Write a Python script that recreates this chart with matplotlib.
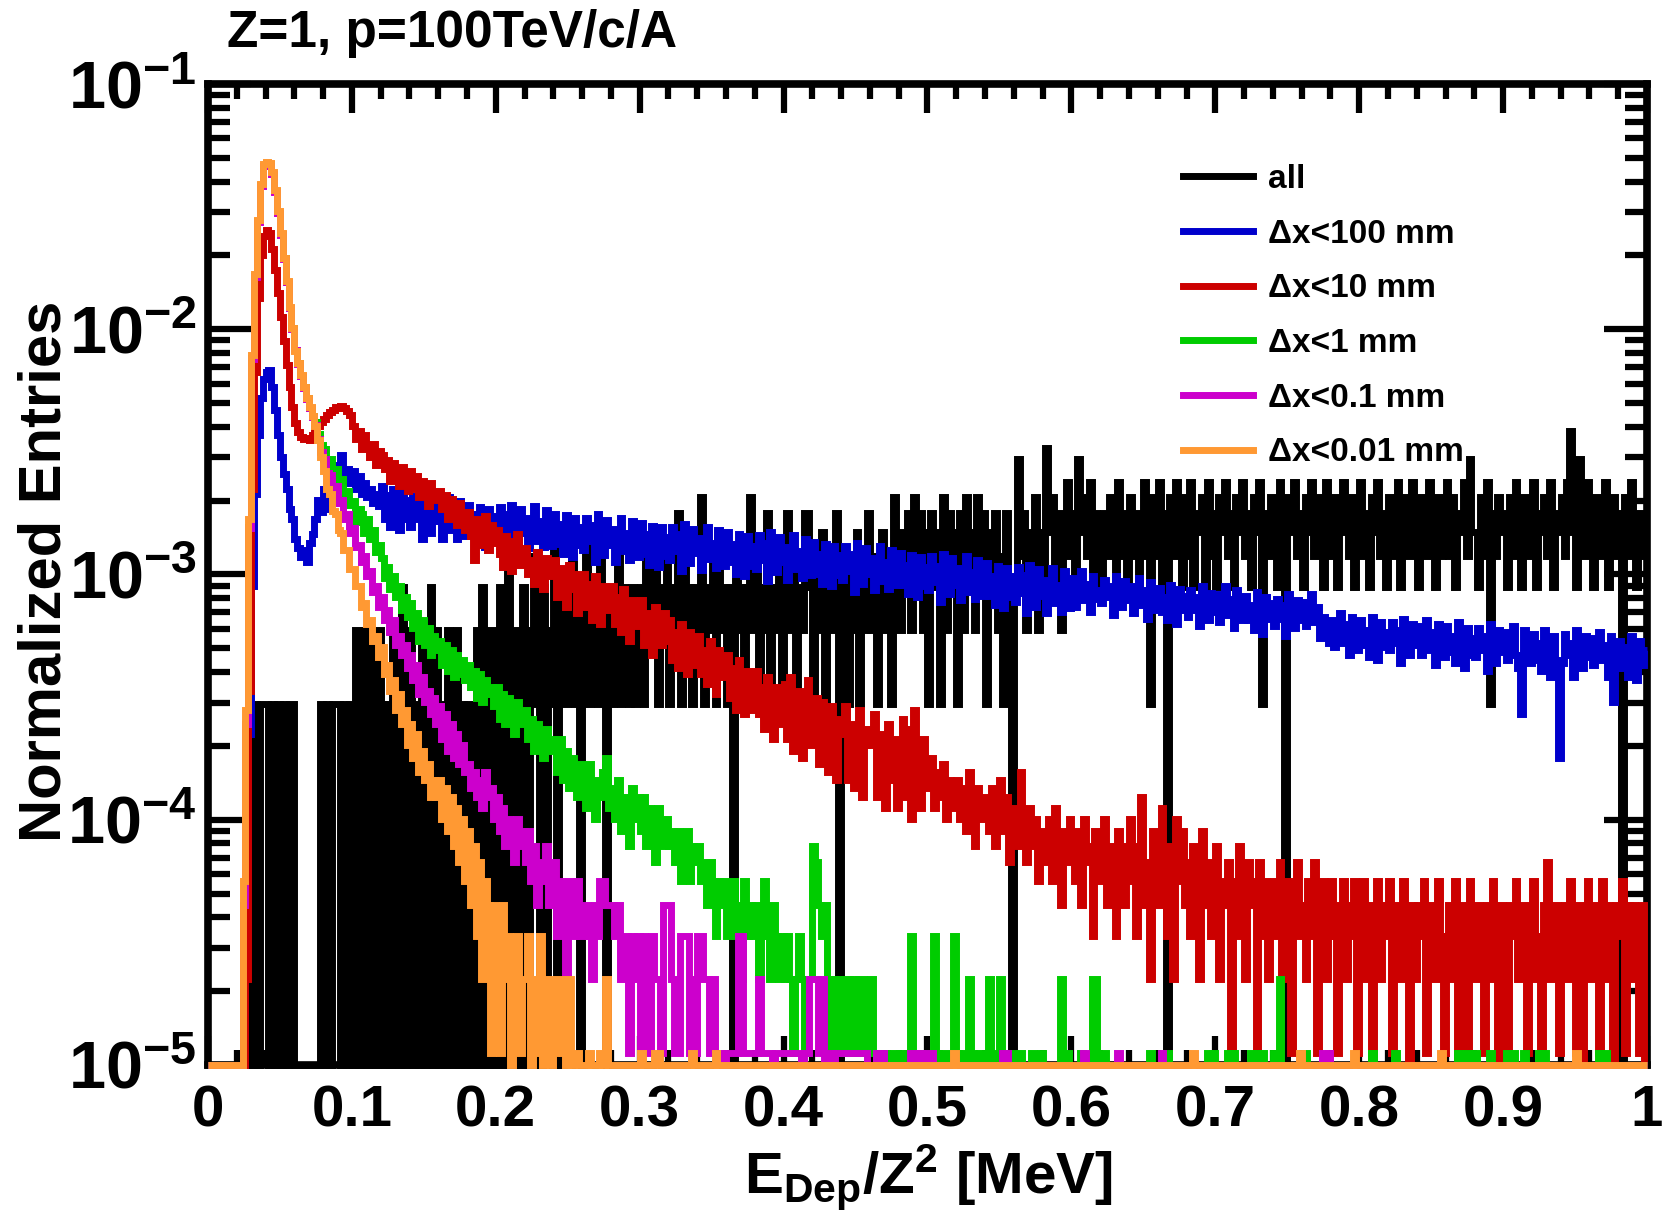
import numpy as np
import matplotlib
matplotlib.use("Agg")
import matplotlib.pyplot as plt
from matplotlib import font_manager
from matplotlib.ticker import MultipleLocator, LogLocator, NullFormatter, FormatStrFormatter

# histogram binning: 500 bins of 0.002 MeV between 0 and 1 MeV
N_BINS = 500
BIN_WIDTH = 0.002
Y_MIN, Y_MAX = 1e-5, 1e-1

# one entry in each histogram, after normalisation
UNIT_ALL = 2.97e-4
UNIT_CUT = 1.12e-5

labels = ["all", "\u0394x<100 mm", "\u0394x<10 mm", "\u0394x<1 mm", "\u0394x<0.1 mm", "\u0394x<0.01 mm"]
colors = ["#000000", "#0000cc", "#cc0000", "#00cc00", "#cc00cc", "#ff9933"]

# bin contents (entries per bin), 10 bins per row
all_counts = [
    0,0,0,0,0,0,0,0,0,0,
    0,0,0,0,1,0,1,0,1,1,
    1,0,1,0,1,0,1,0,1,1,
    0,0,0,0,0,0,0,0,0,1,
    0,1,0,1,1,1,0,1,0,1,
    0,2,0,1,2,0,2,1,0,2,
    1,0,1,0,2,1,0,3,0,1,
    2,0,1,0,2,0,1,3,0,2,
    0,1,0,2,1,0,2,0,1,0,
    1,0,0,2,0,3,1,0,2,0,
    1,3,0,2,5,0,1,2,0,3,
    1,0,2,4,1,0,3,0,2,1,
    5,0,2,3,1,2,4,1,3,0,
    2,5,1,3,2,1,4,2,0,3,
    1,2,4,1,3,2,1,3,1,2,
    3,1,4,2,3,5,1,3,2,4,
    1,3,2,6,1,4,2,3,1,3,
    2,7,1,3,2,4,1,5,2,3,
    1,3,0,4,2,3,1,3,7,2,
    4,1,3,2,6,1,3,2,4,1,
    3,6,2,4,1,3,2,6,6,3,
    1,4,2,5,1,3,2,4,6,0,
    2,4,1,3,2,5,1,4,2,6,
    2,4,1,3,5,2,4,1,7,3,
    2,5,3,6,2,7,3,6,2,5,
    1,6,3,5,1,7,2,6,3,5,
    1,6,2,7,3,5,2,7,4,6,
    1,5,3,6,2,4,1,6,3,0,
    3,10,4,6,2,5,3,7,2,5,
    3,11,5,7,3,6,2,5,8,4,
    6,3,10,5,7,4,8,3,6,4,
    3,6,4,7,5,3,8,4,6,3,
    7,4,6,3,5,8,4,1,7,4,
    8,3,6,0,7,4,8,5,3,7,
    4,8,3,6,5,7,3,8,4,6,
    3,7,5,8,4,6,3,7,5,8,
    4,6,3,7,5,8,1,6,4,7,
    5,3,8,4,0,7,5,8,4,6,
    3,7,5,8,4,6,7,3,8,5,
    4,7,3,6,8,5,4,7,3,6,
    8,4,6,3,7,5,8,4,6,3,
    7,5,4,8,3,6,7,4,8,5,
    3,7,6,4,8,5,3,7,4,6,
    8,4,7,3,6,5,8,4,10,5,
    5,3,7,4,8,1,6,4,7,5,
    6,3,7,4,8,5,3,7,6,4,
    8,3,6,5,7,4,8,3,6,5,
    7,4,8,13,5,3,10,7,4,8,
    5,3,7,4,6,8,3,5,7,4,
    6,0,7,4,8,5,3,6,4,5,
]

dx100_counts = [
    0,0,0,0,0,0,0,0,0,0,
    0,0,0,3,20,80,190,330,470,560,
    600,610,520,420,330,270,230,200,165,150,
    125,115,105,112,100,120,130,150,180,160,
    200,165,230,215,250,210,275,220,240,210,
    235,200,225,190,210,185,200,175,190,170,
    205,150,188,140,200,168,136,195,150,180,
    140,186,150,175,124,192,158,132,184,148,
    165,124,150,184,136,160,125,178,146,128,
    172,130,158,120,168,142,116,165,128,154,
    124,168,136,158,112,172,140,120,165,132,
    152,114,136,170,122,148,116,164,132,117,
    158,119,144,108,156,131,105,152,118,140,
    112,152,122,142,100,157,127,107,149,118,
    137,100,121,152,111,132,102,147,119,105,
    145,108,130,98,141,119,96,139,106,127,
    102,139,111,130,92,144,117,99,137,109,
    126,93,112,140,103,120,95,136,108,97,
    133,100,119,90,130,110,88,128,97,117,
    94,129,102,120,84,133,108,91,127,100,
    116,85,102,129,94,111,86,125,100,89,
    121,90,108,82,119,100,80,117,89,107,
    85,117,92,108,76,120,97,82,114,90,
    104,77,92,117,84,100,78,112,90,81,
    109,81,98,74,107,89,72,105,80,96,
    77,106,83,97,69,108,88,74,104,81,
    95,70,84,106,76,91,71,102,81,73,
    99,73,88,67,97,80,65,95,72,88,
    69,96,75,89,62,98,79,66,94,73,
    85,62,75,95,68,81,63,92,71,65,
    86,66,79,92,70,82,63,88,71,77,
    68,85,72,80,61,88,75,66,84,70,
    80,62,74,86,67,77,59,83,69,64,
    79,63,72,58,81,67,56,78,64,73,
    60,77,64,72,55,80,68,58,75,63,
    74,57,69,80,61,71,54,77,63,58,
    73,58,67,53,76,62,51,72,59,68,
    55,71,59,67,50,74,63,54,70,58,
    69,55,64,74,57,66,49,60,52,47,
    58,45,54,62,47,56,42,60,48,44,
    58,46,53,41,60,49,40,57,45,52,
    44,57,47,53,39,59,50,42,56,46,
    55,42,50,58,44,52,38,56,46,41,
    55,43,50,39,57,46,37,54,42,49,
    41,54,44,50,36,56,47,39,53,43,
    52,40,48,55,42,37,24,53,44,39,
    51,40,47,36,53,42,34,50,40,16,
    39,51,42,47,34,53,45,37,50,41,
    49,38,45,52,40,46,34,50,27,37,
    48,37,45,34,50,41,33,48,38,44,
]

dx10_counts = [
    0,0,0,0,0,0,0,0,0,0,
    0,0,0,2,30,200,600,1200,1800,2150,
    2260,2200,1900,1550,1250,1000,800,640,520,430,
    370,340,325,318,322,315,330,345,360,372,
    385,398,410,420,432,428,436,425,415,400,
    360,320,345,290,330,300,270,305,250,285,
    275,240,262,215,255,230,205,245,218,195,
    235,200,225,185,215,195,170,210,180,190,
    195,165,188,150,182,160,142,175,150,135,
    160,128,102,150,138,118,155,112,142,120,
    135,108,96,128,122,92,118,130,98,104,
    115,90,102,82,110,96,78,104,88,92,
    102,72,95,86,66,98,78,90,62,86,
    90,66,82,58,88,75,56,80,64,74,
    80,56,72,52,78,62,48,70,55,66,
    70,46,62,54,42,66,50,46,62,48,
    58,40,52,37,56,45,35,52,42,38,
    50,35,44,32,48,40,29,44,34,40,
    42,28,37,25,40,33,24,36,29,25,
    36,24,31,21,34,25,19,31,23,22,
    32,19,34,17,27,30,16,25,33,18,
    25,28,15,27,18,14,26,20,13,23,
    20,26,13,22,12,21,25,11,18,21,
    18,24,11,20,15,10,22,13,19,10,
    17,23,11,21,9,25,13,10,19,14,
    12,16,10,14,11,15,9,13,12,10,
    13,9,12,8,14,10,7,12,9,11,
    10,8,12,7,9,13,8,11,6,10,
    9,7,14,8,6,10,7,9,5,8,
    8,6,9,5,10,7,4,8,6,9,
    7,5,8,4,9,6,7,3,8,5,
    6,9,4,7,5,3,8,6,4,7,
    9,5,3,7,11,4,6,2,8,5,
    4,10,6,3,7,2,9,5,8,4,
    6,3,7,5,2,8,4,6,3,5,
    7,2,5,4,6,1,5,3,7,4,
    2,6,4,5,1,6,3,5,2,4,
    5,3,6,2,4,5,1,4,6,3,
    4,2,5,3,6,1,4,5,2,3,
    5,3,1,4,5,2,4,3,5,1,
    3,5,2,4,0,3,5,2,4,3,
    5,1,3,4,2,5,3,0,4,2,
    4,3,5,1,3,4,2,5,3,1,
    3,4,2,5,0,3,4,1,5,3,
    2,4,3,1,4,2,5,3,0,4,
    3,1,4,3,5,2,3,4,1,3,
    5,2,3,0,4,6,2,3,4,1,
    3,4,2,5,3,1,4,0,3,5,
    2,4,3,1,5,2,4,3,0,4,
    3,5,1,4,2,4,3,1,4,0,
]

dx1_counts = [
    0,0,0,0,0,0,0,0,0,0,
    0,0,4,22,140,680,1470,2460,3450,4150,
    4250,4200,3850,3260,2670,2180,1740,1390,1095,900,
    735,648,578,518,468,428,395,372,335,300,
    290,250,265,228,240,205,218,185,196,172,
    178,146,165,158,132,150,124,136,110,118,
    104,86,96,78,88,72,80,64,72,60,
    68,54,62,48,58,46,54,42,50,44,
    48,38,46,36,44,34,42,35,40,33,
    38,31,36,28,35,27,33,29,31,26,
    31,23,29,22,28,24,20,27,22,25,
    25,19,23,17,22,18,16,21,17,19,
    18,14,19,13,17,12,16,14,11,15,
    14,10,15,12,9,13,11,14,16,10,
    12,9,13,8,11,10,7,12,9,11,
    8,11,7,10,9,6,10,8,7,9,
    7,8,6,8,5,7,8,5,7,6,
    7,5,6,4,6,5,3,5,4,5,
    3,4,5,3,4,2,5,3,4,3,
    4,2,3,5,3,2,4,3,2,3,
    2,3,2,1,2,3,2,1,2,2,
    7,6,4,3,4,2,1,2,1,2,
    1,2,2,1,2,1,2,2,1,1,
    2,1,1,0,1,1,0,1,1,0,
    1,1,0,1,3,1,0,1,1,0,
    1,0,3,1,0,1,1,0,0,3,
    1,0,1,0,2,1,0,0,1,0,
    0,2,1,0,0,2,1,0,0,1,
    0,0,1,0,0,0,1,0,0,1,
    0,0,0,0,0,0,2,0,1,0,
    0,0,0,1,0,0,0,2,2,0,
    0,1,0,0,0,0,0,0,0,0,
    0,0,0,0,0,0,0,1,0,0,
    0,0,0,1,0,0,0,0,0,0,
    0,0,0,0,0,0,0,1,0,1,
    0,0,0,0,1,0,1,0,0,0,
    0,0,1,0,1,0,1,0,0,0,
    1,0,2,0,0,0,0,0,0,0,
    0,1,0,0,0,0,0,0,0,0,
    0,0,0,0,0,0,0,0,0,0,
    0,0,0,0,1,0,0,0,0,0,
    0,0,1,0,0,0,0,0,0,0,
    0,0,0,0,0,0,0,0,0,0,
    0,0,0,0,1,0,0,1,0,0,
    1,0,0,0,0,1,0,0,0,0,
    0,1,0,1,0,0,0,1,0,0,
    0,0,1,0,1,0,0,0,0,0,
    0,0,0,0,0,0,0,0,0,0,
    0,0,0,1,0,1,0,0,0,0,
    0,0,0,0,0,0,0,0,0,0,
]

dx01_counts = [
    0,0,0,0,0,0,0,0,0,0,
    0,0,4,22,138,675,1460,2450,3440,4130,
    4230,4180,3830,3250,2660,2170,1730,1385,1090,895,
    732,645,575,515,465,425,390,365,318,283,
    265,232,228,200,205,175,180,150,158,132,
    138,116,118,100,106,88,92,76,80,66,
    72,58,64,52,58,46,50,42,46,37,
    42,33,38,29,34,27,30,24,28,22,
    26,19,24,17,22,16,20,15,18,14,
    15,12,14,11,13,10,14,11,12,9,
    11,8,10,7,9,8,6,9,7,8,
    6,8,5,7,4,6,5,7,4,5,
    6,3,5,4,2,5,4,3,5,3,
    3,4,3,2,4,3,5,5,4,4,
    4,3,4,2,3,3,1,3,2,3,
    1,3,2,1,3,2,2,1,4,4,
    4,2,1,1,3,3,3,1,2,1,
    3,3,2,2,1,2,1,1,1,0,
    1,1,1,1,3,3,1,1,1,1,
    1,2,1,1,1,1,0,1,1,1,
    1,1,1,1,1,1,0,1,1,2,
    2,2,1,2,0,1,1,0,1,1,
    1,1,1,1,1,1,1,1,1,0,
    0,0,1,0,1,0,0,0,0,0,
    0,0,0,0,1,1,0,1,0,0,
    1,1,0,0,0,0,0,0,0,0,
    0,0,0,0,0,0,0,0,0,0,
    0,0,0,0,0,0,1,1,0,0,
    0,0,0,0,0,0,0,0,0,0,
    0,0,0,0,0,0,0,0,0,0,
    0,0,0,0,1,0,0,0,0,0,
    0,0,0,0,0,0,1,0,0,0,
    0,0,0,0,0,0,0,0,0,0,
    0,1,0,0,0,0,0,0,0,0,
    0,0,0,0,0,0,0,0,0,0,
    0,0,0,0,0,0,0,0,0,0,
    0,0,0,0,0,0,0,0,0,0,
    0,0,0,0,0,0,0,0,0,0,
    0,0,0,0,0,0,0,1,0,1,
    0,0,0,0,0,0,0,0,0,0,
    0,0,0,0,0,0,0,0,0,0,
    0,0,0,0,0,0,0,0,0,0,
    0,0,0,0,0,0,0,0,0,0,
    0,0,0,0,0,0,0,0,0,0,
    0,0,0,0,0,0,0,0,0,0,
    0,0,0,0,0,0,0,0,0,0,
    0,0,0,0,0,0,0,0,0,0,
    0,0,0,0,0,0,0,0,0,0,
    0,0,0,0,0,0,0,0,0,0,
    0,0,0,0,0,0,0,0,0,0,
]

dx001_counts = [
    0,0,0,0,0,0,0,0,0,0,
    0,0,5,25,150,700,1500,2500,3500,4200,
    4300,4250,3900,3300,2700,2200,1750,1400,1100,900,
    730,650,580,520,470,430,395,360,315,270,
    236,200,190,162,158,136,132,112,112,94,
    94,80,80,66,68,56,58,48,50,41,
    45,35,38,30,33,25,29,22,25,18,
    22,16,20,14,17,13,15,11,13,11,
    13,9,12,8,11,7,10,6,9,5,
    8,4,7,3,6,2,5,4,1,4,
    3,1,4,2,3,0,2,3,1,2,
    2,3,0,2,1,3,0,2,2,0,
    1,2,2,1,0,2,0,1,1,0,
    0,0,1,0,0,0,1,0,2,0,
    0,0,0,0,0,0,0,0,0,0,
    1,0,0,0,0,1,1,0,0,0,
    0,0,0,0,0,0,0,0,1,0,
    0,0,0,0,0,0,1,0,0,0,
    0,0,0,0,0,0,0,0,0,0,
    0,0,0,0,0,0,0,0,0,0,
    0,0,0,0,0,0,0,0,0,0,
    0,0,0,0,0,0,0,0,0,0,
    0,0,0,0,0,0,0,0,0,0,
    0,0,0,0,0,0,0,0,0,0,
    0,0,0,0,0,0,0,0,0,0,
    0,0,0,0,0,0,0,0,0,1,
    0,0,0,0,0,0,0,0,0,0,
    0,0,0,0,0,0,0,0,0,0,
    0,0,0,0,0,0,0,0,0,0,
    0,0,0,0,0,0,0,0,0,0,
    0,0,0,0,0,0,0,0,0,0,
    0,0,0,0,0,0,0,0,0,0,
    0,0,0,0,0,0,0,0,0,0,
    0,0,0,0,0,0,0,0,0,0,
    0,0,1,0,0,0,0,0,0,0,
    0,0,0,0,0,0,0,0,0,0,
    0,0,0,0,0,0,0,0,0,0,
    0,0,0,0,0,0,0,0,0,1,
    0,0,0,0,0,0,0,0,0,0,
    0,0,0,0,0,0,0,0,1,0,
    0,0,0,0,0,0,0,0,0,0,
    0,0,0,0,0,0,0,0,0,0,
    0,0,0,0,0,0,0,0,1,0,
    0,0,0,0,0,0,0,0,0,0,
    0,0,0,0,0,0,0,0,0,0,
    0,0,0,0,0,0,0,0,0,0,
    0,0,0,0,0,0,0,0,0,0,
    0,0,0,0,0,1,0,0,0,0,
    0,0,0,0,0,0,0,0,0,0,
    0,0,0,0,0,0,0,0,0,0,
]

series = [
    (all_counts, UNIT_ALL),
    (dx100_counts, UNIT_CUT),
    (dx10_counts, UNIT_CUT),
    (dx1_counts, UNIT_CUT),
    (dx01_counts, UNIT_CUT),
    (dx001_counts, UNIT_CUT),
]
for counts, _ in series:
    assert len(counts) == N_BINS, len(counts)

names = {f.name for f in font_manager.fontManager.ttflist}
FONT = "Liberation Sans" if "Liberation Sans" in names else "DejaVu Sans"
plt.rcParams.update({
    "font.family": FONT,
    "font.weight": "bold",
    "mathtext.fontset": "custom",
    "mathtext.rm": FONT + ":bold",
    "mathtext.bf": FONT + ":bold",
    "mathtext.it": FONT + ":bold",
    "mathtext.default": "bf",
})

fig = plt.figure(figsize=(16.68, 12.21), dpi=100)
ax = fig.add_axes([0.1247, 0.1278, 0.8627, 0.8034])

edges = np.arange(N_BINS + 1) * BIN_WIDTH
for (counts, unit), color, label in zip(series, colors, labels):
    vals = np.asarray(counts, dtype=float) * unit
    # empty bins sit on the bottom of the frame, like ROOT does on a log axis
    vals = np.where(vals > 0, vals, Y_MIN)
    ax.stairs(vals, edges, baseline=None, color=color, linewidth=5,
              label=label, clip_on=False, zorder=3)

ax.set_xlim(0, 1)
ax.set_yscale("log")
ax.set_ylim(Y_MIN, Y_MAX)

for sp in ax.spines.values():
    sp.set_linewidth(5.5)

ax.xaxis.set_major_locator(MultipleLocator(0.1))
ax.xaxis.set_minor_locator(MultipleLocator(0.02))
ax.xaxis.set_major_formatter(FormatStrFormatter("%g"))
ax.yaxis.set_major_locator(LogLocator(base=10, numticks=10))
ax.yaxis.set_minor_locator(LogLocator(base=10, subs=np.arange(2, 10), numticks=50))
ax.yaxis.set_minor_formatter(NullFormatter())

ax.tick_params(which="both", direction="in", top=True, right=True,
               width=4.5, color="black")
ax.tick_params(axis="x", which="major", length=21, pad=14, labelsize=42)
ax.tick_params(axis="x", which="minor", length=10.5)
ax.tick_params(axis="y", which="major", length=31, pad=8, labelsize=48)
ax.tick_params(axis="y", which="minor", length=15.5)

fig.text(227 / 1668, 1 - 47 / 1221, "Z=1, p=100TeV/c/A", fontsize=37,
         ha="left", va="baseline")
fig.text(45 / 1668, 0.532, "Normalized Entries", fontsize=43, rotation=90,
         ha="center", va="center")
fig.text(928 / 1668, 1 - 1194 / 1221, r"$E_{Dep}/Z^{2}$ [MeV]", fontsize=42,
         ha="center", va="baseline")

ax.legend(loc="upper left", bbox_to_anchor=(0.6776, 0.9186), frameon=False,
          prop={"size": 24, "weight": "bold"}, handlelength=2.1,
          handletextpad=0.45, labelspacing=0.71, borderpad=0, borderaxespad=0)

fig.savefig("out.png", dpi=100)
